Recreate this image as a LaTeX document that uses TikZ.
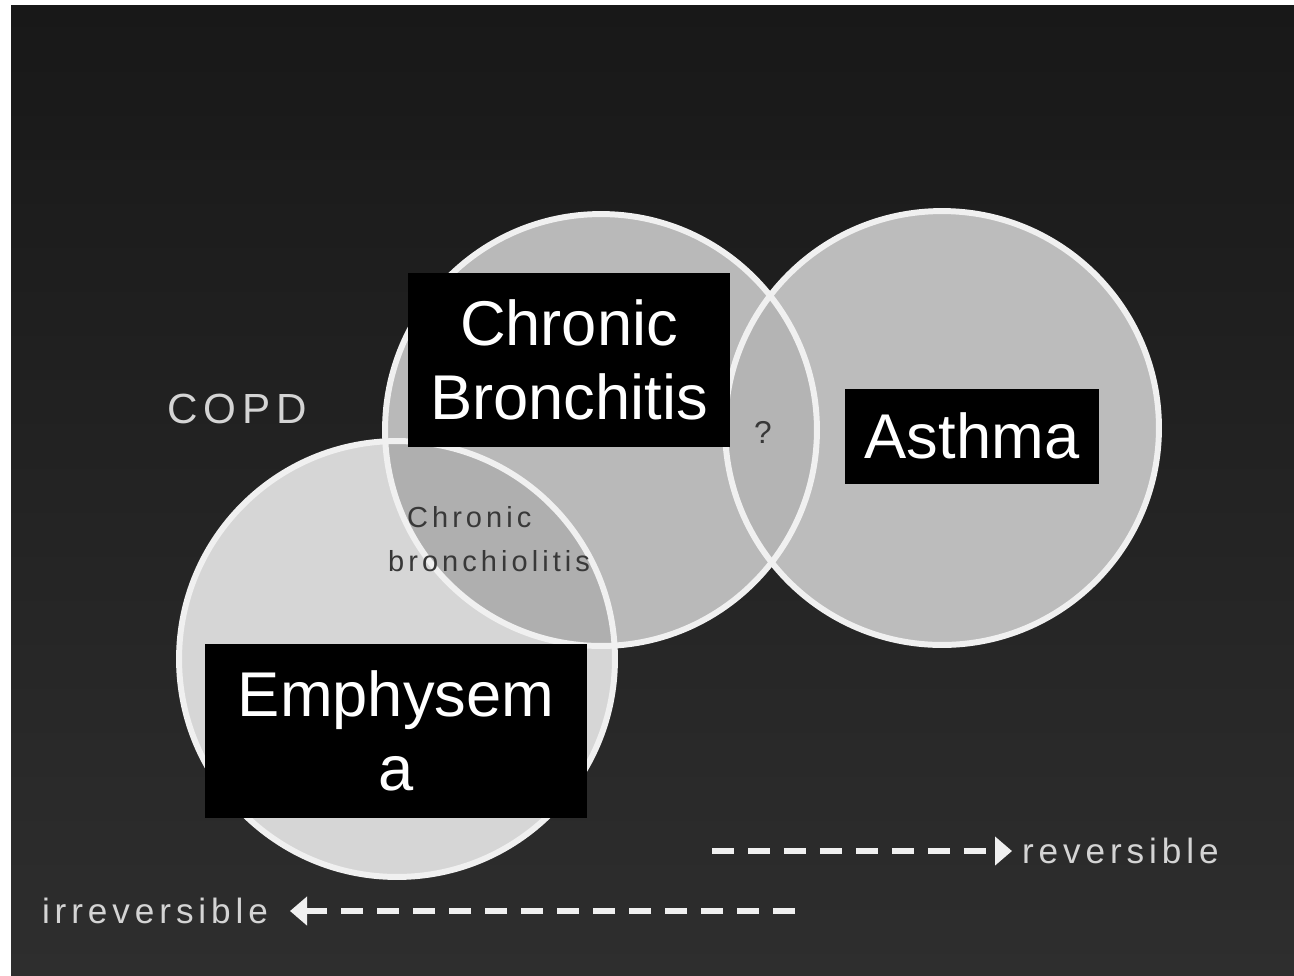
\documentclass[tikz,border=0pt]{standalone}
\usepackage{fontspec}
\setmainfont{Liberation Sans}
\newfontfamily\spacedfont[LetterSpace=14]{Liberation Sans}
\usetikzlibrary{arrows.meta, positioning}
\definecolor{SlideTop}{HTML}{181818}
\definecolor{SlideBottom}{HTML}{2E2E2E}
\definecolor{EmphFill}{HTML}{D6D6D6}
\definecolor{BronchFill}{HTML}{B9B9B9}
\definecolor{AsthmaFill}{HTML}{BCBCBC}
\definecolor{OverlapFill}{HTML}{AFAFAF}
\definecolor{LensFill}{HTML}{B4B4B4}
\definecolor{RingWhite}{HTML}{F0F0F0}
\definecolor{SoftText}{HTML}{D4D4D4}
\definecolor{InkGray}{HTML}{383838}

\begin{document}
\begin{tikzpicture}[x=0.02cm, y=-0.02cm,
    labelbox/.style={fill=black, text=white, align=center, inner sep=0pt,
      font=\fontsize{36}{42.5}\selectfont},
    ringline/.style={draw=RingWhite, line width=3.4pt},
    sidelabel/.style={text=SoftText, inner sep=0pt, outer sep=0.2cm,
      font=\spacedfont\fontsize{20}{24}\selectfont},
    dasharrow/.style={draw=RingWhite, line width=3pt,
      dash pattern=on 0.44cm off 0.28cm, -{Triangle[length=0.34cm, width=0.56cm]}}]
  \useasboundingbox (0,0) rectangle (1294,975);
  \fill[white] (0,0) rectangle (1294,975);
  \shade[top color=SlideTop, bottom color=SlideBottom] (11,5) rectangle (1294,975);

  % circles
  \fill[EmphFill] (397,659) circle[radius=4.36cm];
  \fill[BronchFill] (601,430) circle[radius=4.32cm];
  \begin{scope}
    \clip (397,659) circle[radius=4.36cm];
    \fill[OverlapFill] (601,430) circle[radius=4.32cm];
  \end{scope}
  \fill[AsthmaFill] (942,428) circle[radius=4.34cm];
  \begin{scope}
    \clip (601,430) circle[radius=4.32cm];
    \fill[LensFill] (942,428) circle[radius=4.34cm];
  \end{scope}
  \foreach \cx/\cy/\r in {397/659/4.36, 601/430/4.32, 942/428/4.34}
    \draw[ringline] (\cx,\cy) circle[radius=\r cm];

  % labels
  \node[labelbox, minimum width=6.44cm, minimum height=3.48cm] (bronchitis) at (569,360) {Chronic\\Bronchitis};
  \node[labelbox, minimum width=5.1cm, minimum height=1.9cm] (asthma) at (972,436) {Asthma};
  \node[labelbox, minimum width=7.66cm, minimum height=3.48cm] (emphysema) at (396,731) {Emphysem\\a};
  \node[text=SoftText, font=\spacedfont\fontsize{24}{28}\selectfont] (copd) at (237,409) {COPD};
  \node[text=InkGray, align=left, font=\spacedfont\fontsize{16.5}{25}\selectfont] (bronchiolitis) at (489,539)
    {\hspace{0.38cm}Chronic\\bronchiolitis};
  \node[text=InkGray, font=\fontsize{18}{20}\selectfont] (unknown) at (763,432) {?};

  % reversibility arrows
  \node[sidelabel, anchor=west] (reversible) at (1012,851) {reversible};
  \node[sidelabel, outer xsep=0.44cm, anchor=east] (irreversible) at (290,911) {irreversible};
  \coordinate (revstart) at (712,851);
  \coordinate (irrstart) at (795,911);
  \draw[dasharrow] (revstart) -- (reversible.west);
  \draw[dasharrow] (irrstart) -- (irreversible.east);
\end{tikzpicture}
\end{document}
